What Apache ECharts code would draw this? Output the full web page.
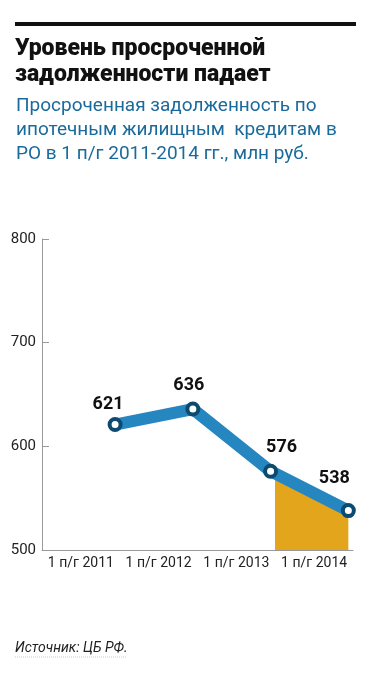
<!DOCTYPE html>
<html><head><meta charset="utf-8">
<script src="https://cdn.jsdelivr.net/npm/echarts@6/dist/echarts.min.js"></script>
<style>html,body{margin:0;padding:0;background:#fff}#c{width:383px;height:677px}</style>
</head><body><div id="c"></div>
<script>
const categories = ['1 п/г 2011', '1 п/г 2012', '1 п/г 2013', '1 п/г 2014'];
const values = [621, 636, 576, 538];
const yTicks = [500, 600, 700, 800];
const titleText = 'Уровень просроченной\nзадолженности падает';
const subtitleText = 'Просроченная задолженность по\nипотечным жилищным  кредитам в\nРО в 1 п/г 2011-2014 гг., млн руб.';
const sourceText = 'Источник: ЦБ РФ.';

const POINT_OFFSET = 0.94; // position of each point inside its category band
const labelOffsets = [[-7, 1], [-4, -2], [11, -2], [-14, -11]];
const lineData = values.map((v, i) => ({
  value: [i + POINT_OFFSET, v],
  label: { offset: labelOffsets[i] }
}));

const chart = echarts.init(document.getElementById('c'), null, {renderer: 'canvas'});
chart.setOption({
  animation: false,
  title: [
    {text: titleText, left: 10, top: 31, textStyle: {fontFamily: 'Roboto', fontWeight: 900, fontSize: 23, lineHeight: 26, color: '#111'}},
    {text: subtitleText, left: 11, top: 89, textStyle: {fontFamily: 'Roboto', fontWeight: 'normal', fontSize: 19, lineHeight: 24, color: '#1b6a9c'}},
    {text: sourceText, left: 10, top: 636, textStyle: {fontFamily: 'Roboto', fontStyle: 'italic', fontWeight: 'normal', fontSize: 14, color: '#222'}}
  ],
  graphic: [
    {type: 'rect', shape: {x: 15, y: 22, width: 341, height: 4}, style: {fill: '#111'}},
    {type: 'line', shape: {x1: 15, y1: 657, x2: 126, y2: 657}, style: {stroke: '#ccc', lineWidth: 1, lineDash: [1, 1]}}
  ],
  grid: {left: 42, right: 30, top: 239, bottom: 127, containLabel: false},
  xAxis: [
    {type: 'category', data: categories, boundaryGap: true,
     axisLine: {lineStyle: {color: '#999', width: 1}},
     axisTick: {inside: true, length: 7, alignWithLabel: false, lineStyle: {color: '#999'}},
     axisLabel: {interval: 0, fontFamily: 'Roboto', fontSize: 14, color: '#222', margin: 6}},
    {type: 'value', min: 0, max: 4, show: false}
  ],
  yAxis: {type: 'value', min: 500, max: 800, interval: 100,
    axisLine: {show: true, lineStyle: {color: '#999'}},
    axisTick: {show: true, inside: true, length: 7, lineStyle: {color: '#999'}},
    splitLine: {show: false},
    axisLabel: {fontFamily: 'Roboto', fontSize: 15, color: '#222', margin: 6,
      formatter: v => yTicks.includes(v) ? String(v) : ''}},
  visualMap: {type: 'piecewise', show: false, dimension: 0, seriesIndex: 0,
    pieces: [{gte: 3, lte: 4, color: '#e3a51c'}],
    outOfRange: {color: 'rgba(0,0,0,0)'}},
  series: [
    {type: 'line', xAxisIndex: 1, data: lineData.map(d => d.value), symbol: 'none',
     lineStyle: {width: 0}, areaStyle: {opacity: 1}, silent: true, z: 1},
    {type: 'line', xAxisIndex: 1, data: lineData, symbol: 'circle', symbolSize: 11,
     itemStyle: {color: '#fff', borderColor: '#0c4a70', borderWidth: 4},
     lineStyle: {color: '#2586c0', width: 12, cap: 'butt'},
     label: {show: true, position: 'top', fontFamily: 'Roboto', fontWeight: 'bold', fontSize: 18, color: '#111'},
     z: 3}
  ]
});
</script></body></html>
